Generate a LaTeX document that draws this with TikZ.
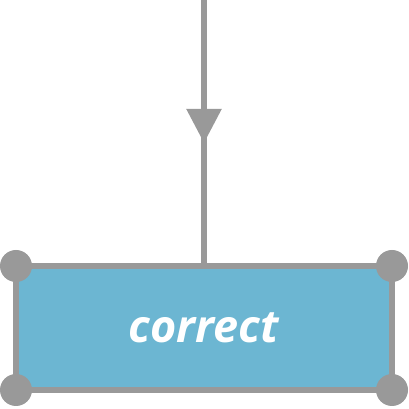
\documentclass[tikz,border=0pt]{standalone}
\usepackage{fontspec}
\newfontfamily\handfont{Open Sans}
\usetikzlibrary{arrows.meta}
\definecolor{wire}{RGB}{153,153,153}
\definecolor{sky}{RGB}{108,182,210}

\begin{document}
\begin{tikzpicture}[
  x=1pt, y=1pt,
  state/.style={draw=wire, fill=sky, line width=5.5pt, inner sep=0pt,
                outer sep=0pt, minimum width=376pt, minimum height=124pt,
                font=\handfont\bfseries\itshape\fontsize{45}{45}\selectfont,
                text=white},
  flow/.style={draw=wire, line width=5.5pt},
  dot/.style={fill=wire}]
  \useasboundingbox (0,0) rectangle (409,409);

  \node[state] (ok) at (204,81) {correct};
  \coordinate (src) at (204,409);
  \coordinate (mid) at (204,266);

  \draw[flow] (src) -- (ok.north);
  \draw[flow, -{Triangle[length=34pt, width=34pt]}] (src) -- (mid);

  \foreach \c in {north west, north east, south west, south east}
    \fill[dot] (ok.\c) circle (16);
\end{tikzpicture}
\end{document}
